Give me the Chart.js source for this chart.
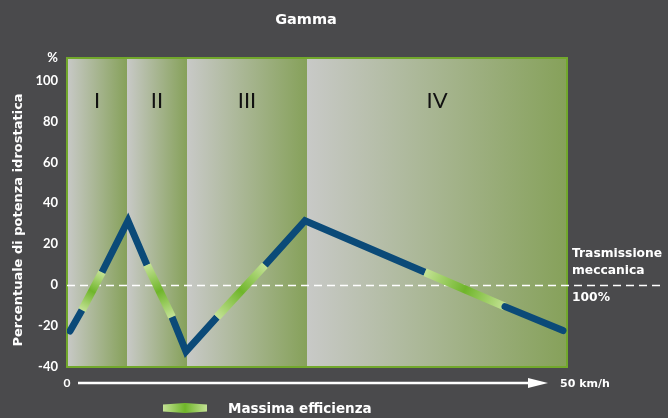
<!DOCTYPE html>
<html>
<head>
<meta charset="utf-8">
<script src="https://cdn.jsdelivr.net/npm/chart.js@4.4.0/dist/chart.umd.min.js"></script>
<style>
html,body{margin:0;padding:0;background:#4a4a4c;}
#wrap{width:668px;height:418px;}
</style>
</head>
<body>
<div id="wrap"><canvas id="c" width="668" height="418"></canvas></div>
<script>
// ---- data ----
const chartTitle = 'Gamma';
const yAxisTitle = 'Percentuale di potenza idrostatica';
const regionBounds = [0, 6, 12, 24, 50];          // km/h
const regionLabels = ['I', 'II', 'III', 'IV'];
const speedKmh   = [0.3, 1.5, 3.5, 6.1, 8.0, 10.5, 11.9, 15.0, 19.8, 23.8, 35.8, 43.8, 49.6];
const hydroPct   = [-22.4, -12.2, 6.3, 31.5, 9.8, -15.6, -32.4, -15.6, 9.8, 31.5, 6.3, -10.5, -22.2];
const maxEffSegment = [false, true, false, false, true, false, false, true, false, false, true, false];
const yTickValues = [-40, -20, 0, 20, 40, 60, 80, 100];
const yMin = -40, yMax = 111;
const xMin = 0, xMax = 50;
const xStartLabel = '0';
const xEndLabel = '50 km/h';
const refLineValue = 0;
const refLabel = ['Trasmissione', 'meccanica', '100%'];
const legendLabel = 'Massima efficienza';

const BLUE = '#0b4a78';
const FONT = 'Lato, "Open Sans", sans-serif';
const WFONT = '"DejaVu Sans", sans-serif';

function greenGrad(ctx, x0, y0, x1, y1) {
  const g = ctx.createLinearGradient(x0, y0, x1, y1);
  g.addColorStop(0, '#c4e295');
  g.addColorStop(0.5, '#6fb52a');
  g.addColorStop(1, '#c4e295');
  return g;
}

const bgPlugin = {
  id: 'bgPlugin',
  beforeDraw(chart) {
    const {ctx, chartArea: a, scales: {x, y}} = chart;
    ctx.save();
    ctx.fillStyle = '#4a4a4c';
    ctx.fillRect(0, 0, chart.width, chart.height);
    for (let i = 0; i < regionLabels.length; i++) {
      const x0 = x.getPixelForValue(regionBounds[i]);
      const x1 = x.getPixelForValue(regionBounds[i + 1]);
      const g = ctx.createLinearGradient(x0, 0, x1, 0);
      g.addColorStop(0, '#c8c9c7');
      g.addColorStop(1, '#86a15a');
      ctx.fillStyle = g;
      ctx.fillRect(x0, a.top, x1 - x0, a.bottom - a.top);
      ctx.fillStyle = '#111';
      ctx.font = '22px ' + FONT;
      ctx.textAlign = 'center';
      ctx.textBaseline = 'middle';
      ctx.fillText(regionLabels[i], (x0 + x1) / 2, 101);
    }
    ctx.strokeStyle = '#72a82c';
    ctx.lineWidth = 2;
    ctx.strokeRect(a.left, a.top, a.right - a.left, a.bottom - a.top);
    ctx.restore();
  },
  beforeDatasetsDraw(chart) {
    const {ctx, chartArea: a, scales: {y}} = chart;
    const py = Math.round(y.getPixelForValue(refLineValue)) + 0.5;
    ctx.save();
    ctx.strokeStyle = '#ffffff';
    ctx.lineWidth = 1.3;
    ctx.setLineDash([8, 5]);
    ctx.beginPath();
    ctx.moveTo(a.left, py);
    ctx.lineTo(664, py);
    ctx.stroke();
    ctx.restore();
  },
  afterDraw(chart) {
    const {ctx, chartArea: a, scales: {x, y}} = chart;
    ctx.save();
    ctx.fillStyle = '#ffffff';
    // title
    ctx.font = 'bold 14.5px ' + WFONT;
    ctx.textAlign = 'center';
    ctx.textBaseline = 'middle';
    ctx.fillText(chartTitle, 306, 20);
    // y-axis title
    ctx.save();
    ctx.translate(19, 220);
    ctx.rotate(-Math.PI / 2);
    ctx.font = 'bold 13px ' + WFONT;
    ctx.fillText(yAxisTitle, 0, 0);
    ctx.restore();
    // x axis arrow
    const ay = 383;
    ctx.font = 'bold 12px ' + FONT;
    ctx.textAlign = 'center';
    ctx.fillText(xStartLabel, x.getPixelForValue(xMin), ay);
    ctx.strokeStyle = '#ffffff';
    ctx.lineWidth = 2.5;
    ctx.beginPath();
    ctx.moveTo(78, ay);
    ctx.lineTo(532, ay);
    ctx.stroke();
    ctx.beginPath();
    ctx.moveTo(528, ay - 5);
    ctx.lineTo(548, ay);
    ctx.lineTo(528, ay + 5);
    ctx.closePath();
    ctx.fill();
    ctx.textAlign = 'left';
    ctx.font = 'bold 11px ' + WFONT;
    ctx.fillText(xEndLabel, 560, ay + 1);
    // reference labels
    ctx.font = 'bold 12.3px ' + WFONT;
    ctx.fillText(refLabel[0], 572, 254);
    ctx.fillText(refLabel[1], 572, 271);
    ctx.fillText(refLabel[2], 572, 298);
    // legend
    const lx0 = 163, lx1 = 207, ly = 408;
    ctx.fillStyle = greenGrad(ctx, lx0, 0, lx1, 0);
    ctx.beginPath();
    ctx.moveTo(lx0, ly - 3.5);
    ctx.lineTo((lx0 + lx1) / 2, ly - 5);
    ctx.lineTo(lx1, ly - 3.5);
    ctx.lineTo(lx1, ly + 3.5);
    ctx.lineTo((lx0 + lx1) / 2, ly + 5);
    ctx.lineTo(lx0, ly + 3.5);
    ctx.closePath();
    ctx.fill();
    ctx.fillStyle = '#ffffff';
    ctx.font = 'bold 13.5px ' + WFONT;
    ctx.fillText(legendLabel, 228, 409);
    ctx.restore();
  }
};

new Chart(document.getElementById('c'), {
  type: 'line',
  data: {
    datasets: [{
      data: speedKmh.map((v, i) => ({x: v, y: hydroPct[i]})),
      borderColor: BLUE,
      borderWidth: 7,
      pointRadius: 0,
      borderJoinStyle: 'miter',
      borderCapStyle: 'butt',
      segment: {
        borderColor: (c) => maxEffSegment[c.p0DataIndex]
          ? greenGrad(c.chart.ctx, c.p0.x, c.p0.y, c.p1.x, c.p1.y) : BLUE,
        borderWidth: (c) => maxEffSegment[c.p0DataIndex] ? 8 : 7,
        borderCapStyle: (c) => (c.p0DataIndex === 0 || c.p1DataIndex === speedKmh.length - 1) ? 'round' : 'butt'
      }
    }]
  },
  options: {
    responsive: false,
    animation: false,
    layout: {padding: {left: 0, top: 58, right: 101, bottom: 51}},
    plugins: {legend: {display: false}, tooltip: {enabled: false}},
    scales: {
      x: {type: 'linear', min: xMin, max: xMax, display: false},
      y: {
        min: yMin, max: yMax,
        afterFit(s) { s.width = 67; },
        afterBuildTicks(s) { s.ticks = yTickValues.concat([yMax]).map(v => ({value: v})); },
        grid: {display: false, drawTicks: false},
        border: {display: false},
        ticks: {
          color: '#ffffff',
          padding: 9,
          font: {family: FONT, weight: 'bold', size: 13},
          callback: (v) => v === yMax ? '%' : String(v)
        }
      }
    }
  },
  plugins: [bgPlugin]
});
</script>
</body>
</html>
